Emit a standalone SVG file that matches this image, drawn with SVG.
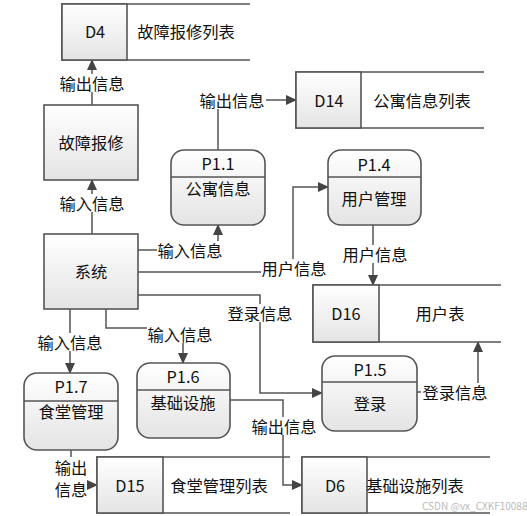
<svg xmlns="http://www.w3.org/2000/svg" width="527" height="516" viewBox="0 0 527 516">
<defs>
<linearGradient id="g" x1="0" y1="0" x2="0" y2="1"><stop offset="0" stop-color="#ffffff"/><stop offset="1" stop-color="#e4e4e4"/></linearGradient>
<marker id="ah" markerUnits="userSpaceOnUse" markerWidth="11" markerHeight="10" refX="10" refY="5" orient="auto"><path d="M0,0 L11,5 L0,10 z" fill="#444"/></marker>
<style>
text{font-family:"Noto Sans CJK SC","Noto Sans",sans-serif;font-size:16.3px;fill:#111;text-anchor:middle;dominant-baseline:central}
.box{fill:url(#g);stroke:#555;stroke-width:1.6}
.ln{fill:none;stroke:#555;stroke-width:1.6}
.cn{fill:none;stroke:#555;stroke-width:1.5}
.bg{fill:#fff}
.wm{font-size:10px;fill:#bbb;text-anchor:start}
</style>
</defs>
<rect width="527" height="516" fill="#fff"/>
<g id="connectors">
<path class="cn" d="M92,105 V60" marker-end="url(#ah)"/>
<path class="cn" d="M92,234 V180" marker-end="url(#ah)"/>
<path class="cn" d="M218,150 V100 H296" marker-end="url(#ah)"/>
<path class="cn" d="M138,250 H218 V225" marker-end="url(#ah)"/>
<path class="cn" d="M138,272 H293 V187 H328" marker-end="url(#ah)"/>
<path class="cn" d="M373,225 V285" marker-end="url(#ah)"/>
<path class="cn" d="M138,295 H260 V393 H322" marker-end="url(#ah)"/>
<path class="cn" d="M417,392 H478 V342" marker-end="url(#ah)"/>
<path class="cn" d="M70,309 V373" marker-end="url(#ah)"/>
<path class="cn" d="M106,309 V328 H183 V363" marker-end="url(#ah)"/>
<path class="cn" d="M71,450 V485 H97" marker-end="url(#ah)"/>
<path class="cn" d="M230,400 H283 V485 H302" marker-end="url(#ah)"/>
<rect class="bg" x="58" y="74" width="68" height="18"/><text x="92" y="83">输出信息</text>
<rect class="bg" x="58" y="194" width="68" height="18"/><text x="92" y="203">输入信息</text>
<rect class="bg" x="199" y="91" width="67" height="18"/><text x="232" y="100">输出信息</text>
<rect class="bg" x="157" y="241" width="66" height="18"/><text x="190" y="250">输入信息</text>
<rect class="bg" x="261" y="259" width="67" height="18"/><text x="294" y="268">用户信息</text>
<rect class="bg" x="341" y="245" width="67" height="18"/><text x="375" y="254">用户信息</text>
<rect class="bg" x="227" y="304" width="67" height="18"/><text x="260" y="313">登录信息</text>
<rect class="bg" x="421" y="383" width="67" height="18"/><text x="455" y="392">登录信息</text>
<rect class="bg" x="36" y="333" width="68" height="18"/><text x="70" y="342">输入信息</text>
<rect class="bg" x="147" y="325" width="66" height="18"/><text x="180" y="334">输入信息</text>
<rect class="bg" x="55" y="457" width="32" height="41"/><text x="71" y="467">输出</text><text x="71" y="489">信息</text>
<rect class="bg" x="251" y="417" width="67" height="18"/><text x="284" y="426">输出信息</text>
</g>
<g id="D4">
<path class="ln" d="M250,4 H62 V60 H250"/>
<rect class="box" x="62" y="4" width="65" height="56"/>
<text x="95" y="31">D4</text><text x="186" y="31">故障报修列表</text>
</g>
<g id="D14">
<path class="ln" d="M484,72 H296 V128 H484"/>
<rect class="box" x="296" y="72" width="65" height="56"/>
<text x="329" y="100">D14</text><text x="422" y="100">公寓信息列表</text>
</g>
<g id="D16">
<path class="ln" d="M501,285 H313 V342 H501"/>
<rect class="box" x="313" y="285" width="66" height="57"/>
<text x="346" y="313">D16</text><text x="440" y="313">用户表</text>
</g>
<g id="D15">
<path class="ln" d="M290,457 H97 V513 H290"/>
<rect class="box" x="97" y="457" width="66" height="56"/>
<text x="130" y="485">D15</text><text x="219" y="485">食堂管理列表</text>
</g>
<g id="D6">
<path class="ln" d="M490,457 H302 V513 H490"/>
<rect class="box" x="302" y="457" width="65" height="56"/>
<text x="335" y="485">D6</text><text x="415" y="485">基础设施列表</text>
</g>
<g id="gzbx">
<rect class="box" x="44" y="105" width="94" height="75"/>
<text x="91" y="142">故障报修</text>
</g>
<g id="xt">
<rect class="box" x="44" y="234" width="94" height="75"/>
<text x="91" y="271">系统</text>
</g>
<g id="P1.1">
<rect class="box" x="171" y="150" width="94" height="75" rx="13"/>
<path class="ln" d="M171,177 H265"/>
<text x="218" y="163">P1.1</text><text x="218" y="188">公寓信息</text>
</g>
<g id="P1.4">
<rect class="box" x="328" y="150" width="93" height="75" rx="13"/>
<path class="ln" d="M328,177 H421"/>
<text x="374" y="164">P1.4</text><text x="374" y="198">用户管理</text>
</g>
<g id="P1.5">
<rect class="box" x="322" y="356" width="95" height="75" rx="13"/>
<path class="ln" d="M322,382 H417"/>
<text x="370" y="369">P1.5</text><text x="370" y="403">登录</text>
</g>
<g id="P1.7">
<rect class="box" x="24" y="373" width="94" height="77" rx="13"/>
<path class="ln" d="M24,401 H118" stroke-width="2.5"/>
<text x="71" y="386">P1.7</text><text x="71" y="411">食堂管理</text>
</g>
<g id="P1.6">
<rect class="box" x="137" y="363" width="93" height="75" rx="13"/>
<path class="ln" d="M137,390 H230"/>
<text x="183" y="376">P1.6</text><text x="183" y="402">基础设施</text>
</g>
<text class="wm" x="422" y="505">CSDN @vx_CXKF10088</text>
</svg>
